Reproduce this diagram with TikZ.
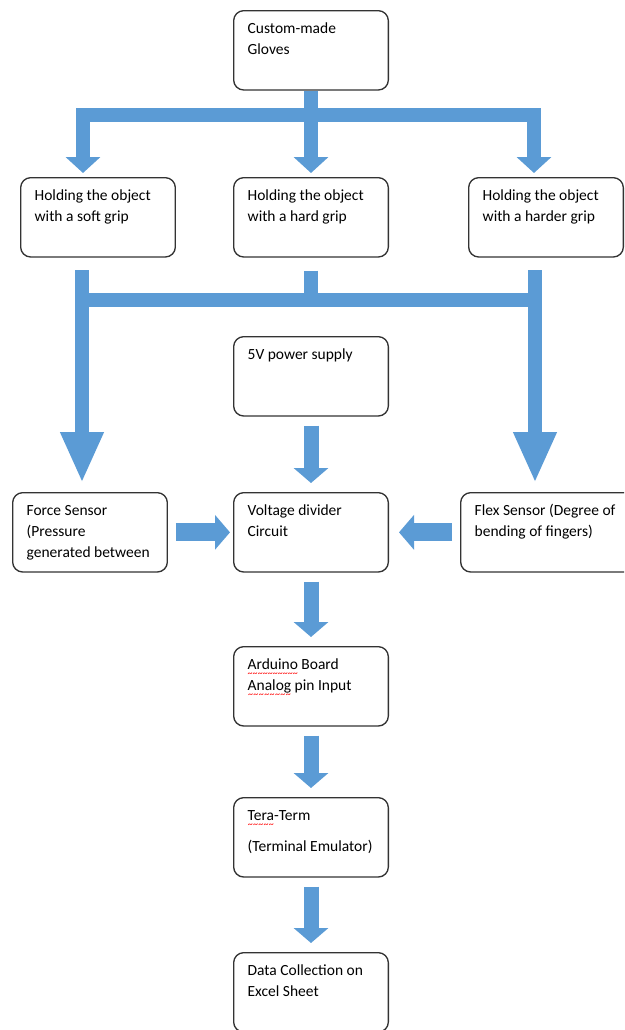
\documentclass[tikz,border=0pt]{standalone}
\usepackage{fontspec}
\setmainfont{Carlito}
\usetikzlibrary{arrows.meta}

\definecolor{flowblue}{HTML}{5B9BD5}

% red spell-check wave under a word
\newsavebox{\wavebox}
\newcommand{\spellwave}[1]{\leavevmode\sbox{\wavebox}{#1}%
  \rlap{\raisebox{-4.2pt}[0pt][0pt]{\hbox to \wd\wavebox{\color{red}\fontsize{6}{6}\selectfont\xleaders\hbox{\char"7E}\hfill}}}#1}

\begin{document}
\begin{tikzpicture}[
    x=0.6pt, y=-0.6pt, % one unit is one pixel of the sketch
    >=Triangle, % Set default arrow tip style
    stage/.style={draw=black!80, line width=0.8pt, rounded corners=6pt,
        anchor=north west, inner xsep=8.4pt, inner ysep=5pt,
        font=\fontsize{9.3}{12.6}\selectfont,
        execute at begin node={\begin{minipage}[t][37.6pt][t]{#1}\raggedright\strut},
        execute at end node={\end{minipage}}},
    stage/.default=76pt,
    pipe/.style={draw=flowblue, line width=8.4pt},
    smalltip/.style={-{Triangle[width=20.4pt, length=9.6pt]}},
    bigtip/.style={-{Triangle[width=24pt, length=30.6pt]}},
    sidetip/.style={-{Triangle[width=20.4pt, length=9pt]}}
]

    \path[use as bounding box, clip] (0,0) rectangle (624,1030);

    % Boxes
    \node[stage] (gloves) at (233,10) {Custom-made\\Gloves};
    \node[stage] (soft) at (20,177) {Holding the object\\with a soft grip};
    \node[stage] (hard) at (233,177) {Holding the object\\with a hard grip};
    \node[stage] (harder) at (468,177) {Holding the object\\with a harder grip};
    \node[stage] (supply) at (233,336) {5V power supply};
    \node[stage] (force) at (12,492) {Force Sensor\\(Pressure\\generated between};
    \node[stage] (divider) at (233,492) {Voltage divider\\Circuit};
    \node[stage=88pt] (flex) at (460,492) {Flex Sensor (Degree of\\bending of fingers)};
    \node[stage] (arduino) at (233,646) {\spellwave{Arduino} Board\\\spellwave{Analog} pin Input};
    \node[stage] (tera) at (233,797) {\spellwave{Tera}-Term\\[6pt](Terminal Emulator)};
    \node[stage] (excel) at (233,952) {Data Collection on\\Excel Sheet};

    % Gloves split into the three grips
    \coordinate (bar1w) at (76,115);
    \coordinate (bar1e) at (541,115);
    \coordinate (drop1w) at (83,108);
    \coordinate (drop1e) at (534,108);
    \draw[pipe] (bar1w) -- (bar1e);
    \draw[pipe, smalltip, shorten >=2.4pt] (gloves.south) -- (hard.north);
    \draw[pipe, smalltip, shorten >=2.4pt] (drop1w) -- (drop1w |- soft.north);
    \draw[pipe, smalltip, shorten >=2.4pt] (drop1e) -- (drop1e |- harder.north);

    % Grips join and go to the two sensors
    \coordinate (bar2w) at (76,300);
    \coordinate (bar2e) at (541,300);
    \coordinate (rise2w) at (82,270);
    \coordinate (rise2e) at (535,270);
    \draw[pipe] (bar2w) -- (bar2e);
    \draw[pipe, shorten <=7.8pt] (hard.south) -- (hard.south |- bar2w);
    \draw[pipe, bigtip, shorten >=5.4pt] (rise2w) -- (rise2w |- force.north);
    \draw[pipe, bigtip, shorten >=5.4pt] (rise2e) -- (rise2e |- flex.north);

    % Main chain
    \draw[pipe, line width=9pt, sidetip, shorten <=5.4pt, shorten >=5.4pt] (supply.south) -- (divider.north);
    \draw[pipe, line width=9pt, sidetip, shorten <=5.4pt, shorten >=5.4pt] (divider.south) -- (arduino.north);
    \draw[pipe, line width=9pt, sidetip, shorten <=5.4pt, shorten >=5.4pt] (arduino.south) -- (tera.north);
    \draw[pipe, line width=9pt, sidetip, shorten <=5.4pt, shorten >=5.4pt] (tera.south) -- (excel.north);

    % Sensors into the divider
    \draw[pipe, line width=10.8pt, sidetip, shorten <=4.8pt, shorten >=1.8pt] (force.east) -- (divider.west);
    \draw[pipe, line width=10.8pt, sidetip, shorten <=4.8pt, shorten >=6pt] (flex.west) -- (divider.east);

\end{tikzpicture}
\end{document}
